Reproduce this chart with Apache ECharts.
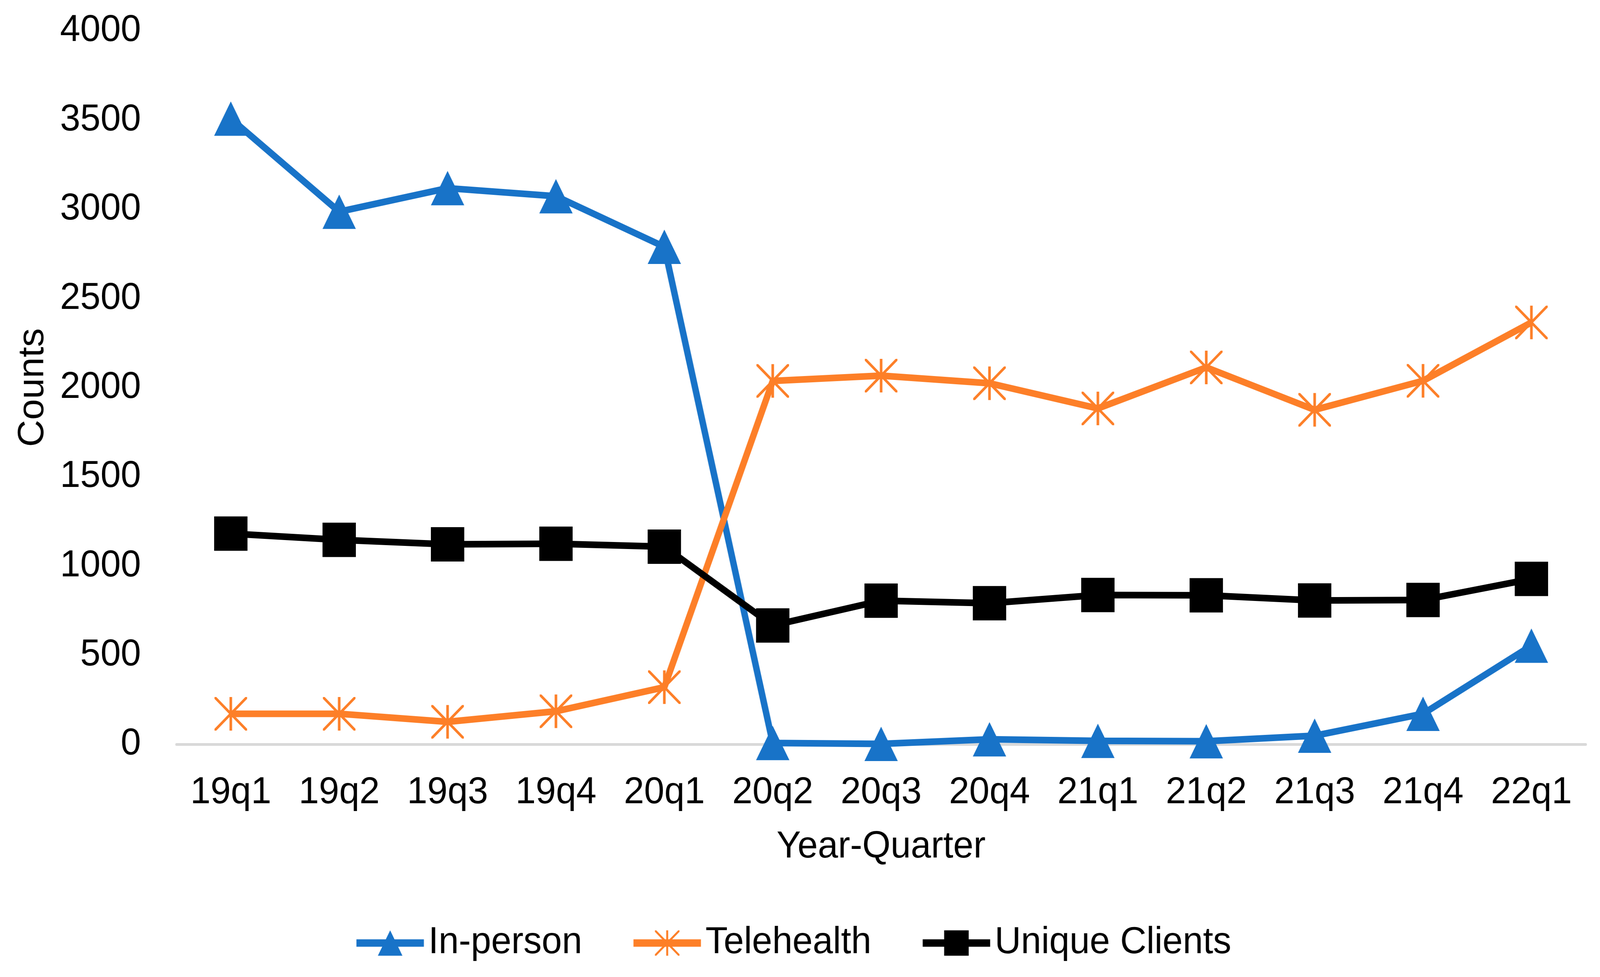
<!DOCTYPE html>
<html>
<head>
<meta charset="utf-8">
<title>Counts by Year-Quarter</title>
<script src="https://cdn.jsdelivr.net/npm/echarts@6/dist/echarts.min.js"></script>
<style>
  html, body { margin: 0; padding: 0; background: #fff; overflow: hidden; }
  #chart { width: 4222px; height: 2502px; transform-origin: 0 0; }
</style>
</head>
<body>
<div id="chart"></div>
<script>
var quarters = ['19q1', '19q2', '19q3', '19q4', '20q1', '20q2', '20q3', '20q4', '21q1', '21q2', '21q3', '21q4', '22q1'];
var inPerson = [3508, 2986, 3118, 3073, 2789, 7, 2, 28, 19, 17, 48, 171, 553];
var telehealth = [171, 171, 126, 185, 320, 2037, 2067, 2024, 1883, 2113, 1875, 2038, 2365];
var uniqueClients = [1181, 1146, 1121, 1124, 1108, 666, 805, 791, 837, 835, 806, 809, 927];
var yTicks = { min: 0, max: 4000, interval: 500 };

// asterisk marker (vertical bar + X), all sub-paths same winding
var starPath = 'path://M46,0 L54,0 L54,100 L46,100 Z ' +
  'M0,0 L5.5,0 L100,94.5 L100,100 L94.5,100 L0,5.5 Z ' +
  'M100,0 L100,5.5 L5.5,100 L0,100 L0,94.5 L94.5,0 Z';

var font = 'Liberation Sans, Arial, sans-serif';
var el = document.getElementById('chart');

// the window may be narrower than the 4222px design, squeeze to fit
var sx = window.innerWidth / 4222;
var sy = window.innerHeight / 2502;
if (Math.abs(sx - 1) > 0.001 || Math.abs(sy - 1) > 0.001) {
  el.style.transform = 'scale(' + sx + ',' + sy + ')';
}

var chart = echarts.init(el);

var option = {
  backgroundColor: '#ffffff',
  animation: false,
  grid: { left: 466, right: 38, top: 79, bottom: 596 },
  legend: {
    left: 926,
    top: 2362,
    itemWidth: 178,
    itemHeight: 81,
    itemGap: 126,
    lineStyle: { width: 19 },
    textStyle: { fontFamily: font, fontSize: 96, color: '#000', padding: [0, 0, 0, 7] },
    data: ['In-person', 'Telehealth', 'Unique Clients']
  },
  xAxis: {
    type: 'category',
    data: quarters,
    boundaryGap: true,
    name: 'Year-Quarter',
    nameLocation: 'middle',
    nameGap: 216,
    nameTextStyle: { fontFamily: font, fontSize: 96, color: '#000' },
    axisLine: { lineStyle: { color: '#d9d9d9', width: 7 } },
    axisTick: { show: false },
    axisLabel: { margin: 77, fontFamily: font, fontSize: 96, color: '#000' },
    splitLine: { show: false }
  },
  yAxis: {
    type: 'value',
    min: yTicks.min,
    max: yTicks.max,
    interval: yTicks.interval,
    name: 'Counts',
    nameLocation: 'middle',
    nameGap: 330,
    nameTextStyle: { fontFamily: font, fontSize: 96, color: '#000' },
    axisLine: { show: false },
    axisTick: { show: false },
    axisLabel: {
      margin: 94, fontFamily: font, fontSize: 96, color: '#000',
      formatter: function (v) { return String(v); }
    },
    splitLine: { show: false }
  },
  series: [
    {
      name: 'In-person',
      type: 'line',
      data: inPerson,
      symbol: 'triangle',
      symbolSize: 88,
      lineStyle: { color: '#1873c8', width: 17 },
      itemStyle: { color: '#1873c8', borderWidth: 0 }
    },
    {
      name: 'Telehealth',
      type: 'line',
      data: telehealth,
      symbol: starPath,
      symbolSize: 86,
      lineStyle: { color: '#fd7f28', width: 17 },
      itemStyle: { color: '#fd7f28', borderWidth: 0 }
    },
    {
      name: 'Unique Clients',
      type: 'line',
      data: uniqueClients,
      symbol: 'rect',
      symbolSize: 88,
      lineStyle: { color: '#000000', width: 17 },
      itemStyle: { color: '#000000', borderWidth: 0 }
    }
  ]
};

chart.setOption(option);
</script>
</body>
</html>
